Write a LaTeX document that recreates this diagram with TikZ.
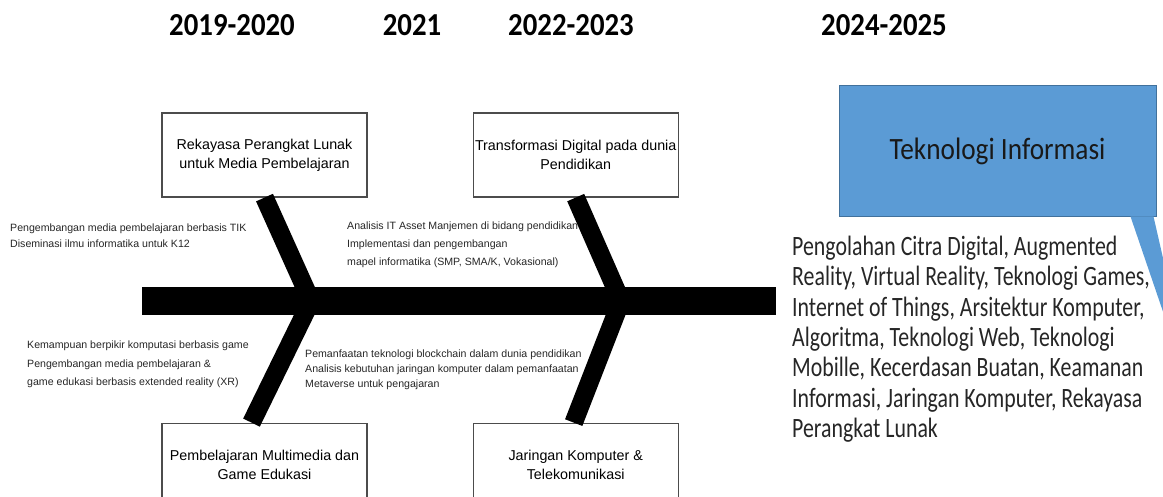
\documentclass[tikz,border=0pt]{standalone}
\usepackage{fontspec}
\setmainfont{Liberation Sans}
\newfontfamily\yearfont[FakeStretch=0.9]{Carlito}
\newfontfamily\listfont[FakeStretch=0.78]{Carlito}
\newfontfamily\tifont[FakeStretch=0.88]{Carlito}
\usetikzlibrary{positioning}
\definecolor{tiblue}{HTML}{5B9BD5}
\definecolor{tiedge}{HTML}{41719C}

\begin{document}
\begin{tikzpicture}[x=1pt,y=-1pt]
    \tikzstyle{year}=[font=\yearfont\bfseries\fontsize{32}{34}\selectfont, anchor=base, inner sep=0]
    \tikzstyle{topic}=[rectangle, draw=black!70, line width=1.2pt, fill=white, minimum width=205pt, minimum height=84pt, inner sep=1pt, align=center, font=\fontsize{14.3}{19}\selectfont]
    \tikzstyle{note}=[anchor=north west, inner sep=0, align=left, text=black!85]
    \tikzstyle{bone}=[line width=18.5pt, black, line join=miter]
    \tikzstyle{spine}=[line width=28pt, black]
    \tikzstyle{tibox}=[rectangle, fill=tiblue, draw=tiedge, line width=1pt, minimum width=317pt, minimum height=131pt, text=black!90, font=\tifont\fontsize{31}{34}\selectfont]
    \useasboundingbox (0,0) rectangle (1163,497);
    \clip (0,0) rectangle (1163,497);
    % years
    \node[year] (y1) at (232,36) {2019-2020};
    \node[year] (y2) at (412,36) {2021};
    \node[year] (y3) at (571,36) {2022-2023};
    \node[year] (y4) at (884,36) {2024-2025};
    % notes along the bones
    \node[note, font=\fontsize{10.6}{16}\selectfont] (n1) at (10,224) {Pengembangan media pembelajaran berbasis TIK\\Diseminasi ilmu informatika untuk K12};
    \node[note, font=\fontsize{10.6}{18}\selectfont] (n2) at (347,222) {Analisis IT Asset Manjemen di bidang pendidikan\\Implementasi dan pengembangan\\mapel informatika (SMP, SMA/K, Vokasional)};
    \node[note, font=\fontsize{10.6}{18.5}\selectfont] (n3) at (27,341) {Kemampuan berpikir komputasi berbasis game\\Pengembangan media pembelajaran \&\\game edukasi berbasis extended reality (XR)};
    \node[note, font=\fontsize{10.6}{15}\selectfont] (n4) at (305,350) {Pemanfaatan teknologi blockchain dalam dunia pendidikan\\Analisis kebutuhan jaringan komputer dalam pemanfaatan\\Metaverse untuk pengajaran};
    % topic boxes
    \node[topic] (rpl) at (264.5,155) {Rekayasa Perangkat Lunak\\untuk Media Pembelajaran};
    \node[topic, right=105pt of rpl] (tdp) {Transformasi Digital pada dunia\\Pendidikan};
    \node[topic, below=225pt of rpl] (pmg) {Pembelajaran Multimedia dan\\Game Edukasi};
    \node[topic, right=105pt of pmg] (jkt) {Jaringan Komputer \&\\Telekomunikasi};
    % spine and bones
    \coordinate (tail) at (142,301);
    \coordinate (head) at (776,301);
    \coordinate (v1) at (311,301);
    \coordinate (v2) at (621,301);
    \draw[bone] (rpl.south) -- (v1) -- ([xshift=-13pt]pmg.north);
    \draw[bone] (tdp.south) -- (v2) -- ([xshift=-2pt]jkt.north);
    \draw[spine] (tail) -- (head);
    % teknologi informasi
    \node[tibox] (ti) at (997.5,151.5) {Teknologi Informasi};
    \fill[tiblue] ([xshift=-26pt,yshift=1pt]ti.south east) -- ([xshift=-3pt,yshift=1pt]ti.south east) -- (1200,420) -- cycle;
    \node[note, text=black!85, font=\listfont\fontsize{28}{30.3}\selectfont] (list) at (792,236) {Pengolahan Citra Digital, Augmented\\Reality, Virtual Reality, Teknologi Games,\\Internet of Things, Arsitektur Komputer,\\Algoritma, Teknologi Web, Teknologi\\Mobille,  Kecerdasan Buatan, Keamanan\\Informasi, Jaringan Komputer, Rekayasa\\Perangkat Lunak};
\end{tikzpicture}
\end{document}
